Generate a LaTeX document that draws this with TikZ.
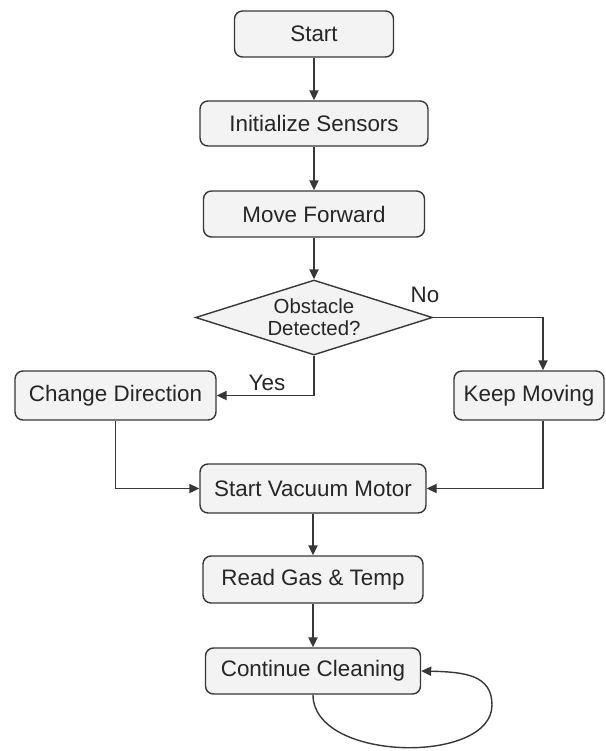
\documentclass[tikz,border=0pt]{standalone}
\usepackage{fontspec}
\setmainfont{Liberation Sans}
\usetikzlibrary{positioning,arrows.meta,shapes.geometric}
\definecolor{boxgray}{RGB}{243,243,243}
\definecolor{linegray}{RGB}{55,55,55}
\tikzset{
  proc/.style={draw=linegray,fill=boxgray,rounded corners=4pt,line width=0.7pt,inner sep=1pt,font=\fontsize{11.2}{14}\selectfont,text=black!85},
  dec/.style={diamond,draw=linegray,fill=boxgray,line width=0.7pt,inner sep=0pt,aspect=3.16,minimum width=118.5pt,minimum height=37.5pt,align=center,font=\fontsize{10.2}{11}\selectfont,text=black!85},
  flow/.style={line width=0.7pt,draw=linegray,-{Triangle[length=5pt,width=4.6pt]}},
  blab/.style={font=\fontsize{11.2}{14}\selectfont,text=black!85}
}
\begin{document}
\begin{tikzpicture}[x=0.5pt,y=-0.5pt]
  \useasboundingbox (0,0) rectangle (606,751);
  \node[proc,minimum width=79.5pt,minimum height=23pt] (start) at (314,34) {Start};
  \node[proc,minimum width=114pt,minimum height=22.5pt] (init) at (314,123.5) {Initialize Sensors};
  \node[proc,minimum width=110.5pt,minimum height=23pt] (move) at (314,214) {Move Forward};
  \node[dec] (obst) at (314,317.5) {Obstacle\\Detected?};
  \node[proc,minimum width=100.5pt,minimum height=24.5pt] (change) at (115.5,395.5) {Change Direction};
  \node[proc,minimum width=75pt,minimum height=24.5pt] (keep) at (529,395.5) {Keep Moving};
  \node[proc,minimum width=113pt,minimum height=24.5pt] (vac) at (313,488.5) {Start Vacuum Motor};
  \node[proc,minimum width=110pt,minimum height=23.5pt] (read) at (313,579.5) {Read Gas \& Temp};
  \node[proc,minimum width=107.5pt,minimum height=23pt] (clean) at (313,671) {Continue Cleaning};
  \draw[flow] (start) -- (init);
  \draw[flow] (init) -- (move);
  \draw[flow] (move) -- (obst.north);
  \draw[flow] (obst.south) |- (change.east);
  \draw[flow] (obst.east) -| ([xshift=7pt]keep.north);
  \draw[flow] (change.south) |- (vac.west);
  \draw[flow] ([xshift=7pt]keep.south) |- (vac.east);
  \draw[flow] (vac) -- (read);
  \draw[flow] (read) -- (clean);
  \draw[flow] (clean.south) .. controls (313,762) and (492,765) .. (492,705) .. controls (492,675) and (465,672) .. (clean.east);
  \node[blab] (yes) at (267,383) {Yes};
  \node[blab] (no) at (425,295) {No};
\end{tikzpicture}
\end{document}
